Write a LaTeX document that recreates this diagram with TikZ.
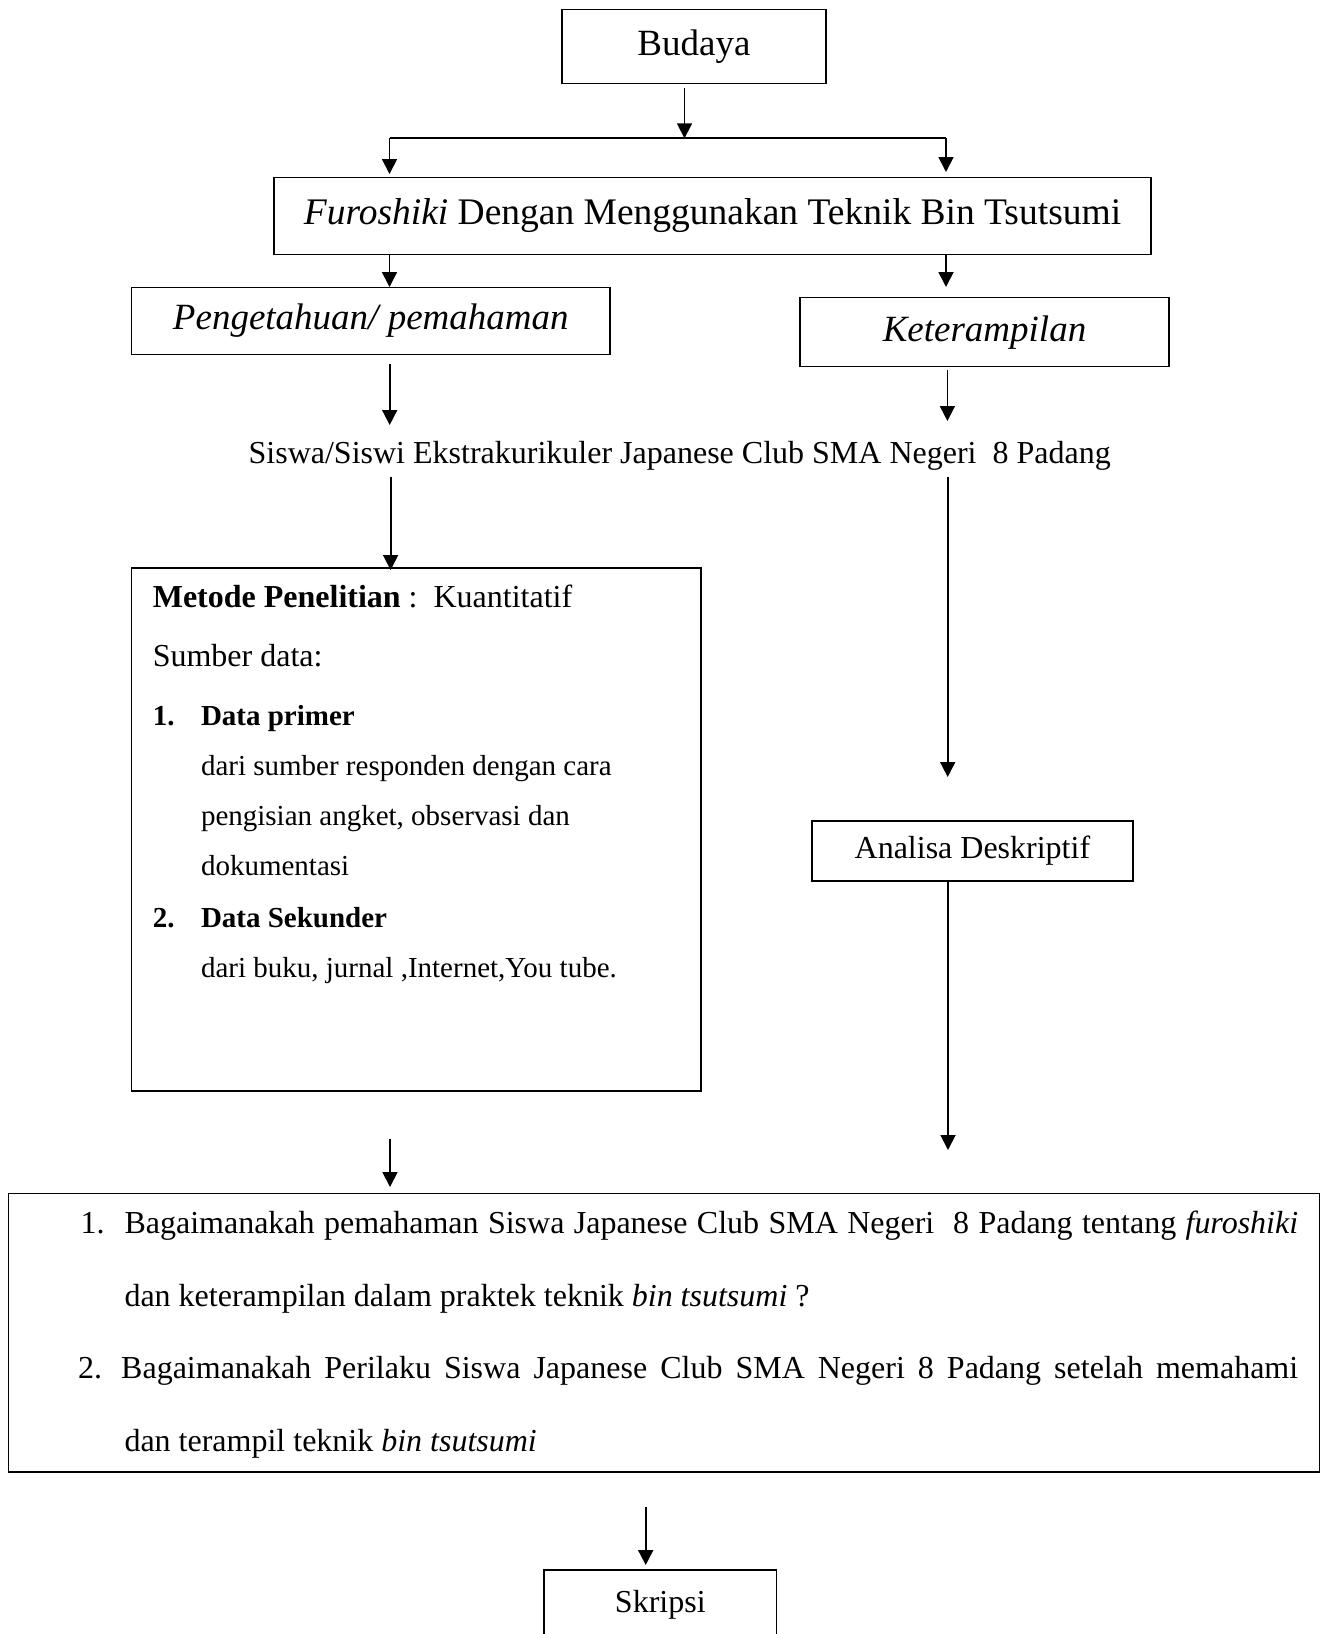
\documentclass[tikz,border=0pt]{standalone}
\usepackage{fontspec}
\setmainfont{Liberation Serif}
\usetikzlibrary{arrows.meta}
\newcommand{\setfs}[1]{\fontsize{#1}{#1}\selectfont}
\begin{document}
\begin{tikzpicture}[x=1pt,y=-1pt,
  box/.style={draw,line width=1.5pt,inner sep=0pt},
  txt/.style={inner sep=0pt,anchor=base west},
  ln/.style={line width=1.8pt},
  arr/.style={line width=1.8pt,-{Triangle[length=15pt,width=15pt]}}]
\useasboundingbox (0,0) rectangle (1326,1634);
% boxes
\node[box,minimum width=264pt,minimum height=74pt,font=\setfs{37}] (budaya) at (694,46.3) {Budaya};
\node[box,minimum width=877pt,minimum height=76.6pt,font=\setfs{37.5}] (furo) at (712.5,216) {\textit{Furoshiki} Dengan Menggunakan Teknik Bin Tsutsumi};
\node[box,minimum width=478.4pt,minimum height=67pt,font=\setfs{37}] (peng) at (370.8,320.8) {\textit{Pengetahuan/ pemahaman}};
\node[box,minimum width=369pt,minimum height=69pt,font=\setfs{37}] (ket) at (984.5,332.2) {\textit{Keterampilan}};
\node[inner sep=0pt,anchor=base,font=\setfs{32}] (siswa) at (679.7,463) {Siswa/Siswi Ekstrakurikuler Japanese Club SMA Negeri\ \ 8 Padang};
\node[box,minimum width=569.4pt,minimum height=523pt] (metode) at (416.3,829.5) {};
\node[box,minimum width=320.7pt,minimum height=60.3pt,font=\setfs{32}] (analisa) at (972.4,850.9) {Analisa Deskriptif};
\node[box,minimum width=1311.2pt,minimum height=278.7pt] (rq) at (663.9,1332.6) {};
\node[box,minimum width=232.7pt,minimum height=70pt,font=\setfs{32}] (skripsi) at (660.3,1605) {Skripsi};
% metode content
\node[txt,font=\setfs{32}] (m1) at (152.6,607.9) {\textbf{Metode Penelitian} :\ \ Kuantitatif};
\node[txt,font=\setfs{32}] (m2) at (152.6,666.8) {Sumber data:};
\node[txt,font=\setfs{29}] (m3n) at (152.6,725.7) {\textbf{1.}};
\node[txt,font=\setfs{29}] (m3) at (200.8,725.7) {\textbf{Data primer}};
\node[txt,font=\setfs{29}] (m4) at (200.8,775.7) {dari sumber responden dengan cara};
\node[txt,font=\setfs{29}] (m5) at (200.8,825.7) {pengisian angket, observasi dan};
\node[txt,font=\setfs{29}] (m6) at (200.8,875.7) {dokumentasi};
\node[txt,font=\setfs{29}] (m7n) at (152.6,927.5) {\textbf{2.}};
\node[txt,font=\setfs{29}] (m7) at (200.8,927.5) {\textbf{Data Sekunder}};
\node[txt,font=\setfs{29}] (m8) at (200.8,977.5) {dari buku, jurnal ,Internet,You tube.};
% research questions
\node[txt,font=\setfs{32}] (q1n) at (80.3,1233.3) {1.};
\node[txt,font=\setfs{32}] (q1) at (124.3,1233.3) {\makebox[1173.7pt][s]{Bagaimanakah pemahaman Siswa Japanese Club SMA Negeri\ \ 8 Padang tentang \textit{furoshiki}}};
\node[txt,font=\setfs{32}] (q1b) at (124.3,1306.7) {dan keterampilan dalam praktek teknik \textit{bin tsutsumi} ?};
\node[txt,font=\setfs{32}] (q2n) at (77.8,1378.3) {2.};
\node[txt,font=\setfs{32}] (q2) at (121,1378.3) {\makebox[1177pt][s]{Bagaimanakah Perilaku Siswa Japanese Club SMA Negeri 8 Padang setelah memahami}};
\node[txt,font=\setfs{32}] (q2b) at (124.3,1451.7) {dan terampil teknik \textit{bin tsutsumi}};
% connector coordinates
\coordinate (b0) at (684.5,88);
\coordinate (j) at (684.5,138.3);
\coordinate (jl) at (389.5,138.3);
\coordinate (jr) at (946,138.3);
\coordinate (jlt) at (389.5,174);
\coordinate (jrt) at (946,172);
\coordinate (fl) at (389.5,254.3);
\coordinate (flt) at (389.5,287);
\coordinate (fr) at (946,254.3);
\coordinate (frt) at (946,287);
\coordinate (pl) at (389.7,364);
\coordinate (plt) at (389.7,425);
\coordinate (kr) at (947.4,370);
\coordinate (krt) at (947.4,421);
\coordinate (sl) at (390.6,476.7);
\coordinate (slt) at (390.6,570);
\coordinate (sr) at (947.7,476.7);
\coordinate (srt) at (947.7,777);
\coordinate (ml) at (390,1139.3);
\coordinate (mlt) at (390,1187);
\coordinate (ar) at (948,881);
\coordinate (art) at (948,1150);
\coordinate (rb) at (645.7,1506.7);
\coordinate (rbt) at (645.7,1565);
% connectors
\draw[arr] (b0) -- (j);
\draw[ln] (jl) -- (jr);
\draw[arr] (jl) -- (jlt);
\draw[arr] (jr) -- (jrt);
\draw[arr] (fl) -- (flt);
\draw[arr] (fr) -- (frt);
\draw[arr] (pl) -- (plt);
\draw[arr] (kr) -- (krt);
\draw[arr] (sl) -- (slt);
\draw[arr] (sr) -- (srt);
\draw[arr] (ml) -- (mlt);
\draw[arr] (ar) -- (art);
\draw[arr] (rb) -- (rbt);
\end{tikzpicture}
\end{document}
